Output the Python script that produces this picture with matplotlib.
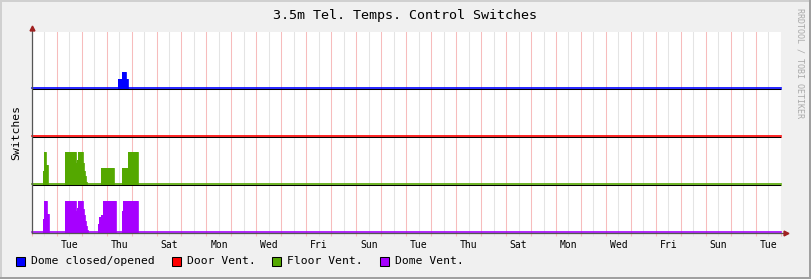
#!/usr/bin/env python3
"""
Recreate the RRDtool '3.5m Tel. Temps. Control Switches' graph
"""

import matplotlib.pyplot as plt
from matplotlib.patches import Rectangle

# time axis in days, day 0 = Monday 00:00
blue_t = [0.00, 3.46, 3.60, 3.77, 3.84]
blue_v = [0.00, 0.20, 0.35, 0.20, 0.00]

red_t = [0.00]
red_v = [0.00]

green_t = [0.00, 0.46, 0.49, 0.57, 0.64, 1.34, 1.76, 1.80, 1.87, 2.04,
           2.09, 2.14, 2.19, 2.22, 2.78, 3.30, 3.62, 3.84, 3.87, 4.27]
green_v = [0.00, 0.30, 0.68, 0.42, 0.00, 0.68, 0.45, 0.52, 0.68, 0.45,
           0.30, 0.18, 0.06, 0.00, 0.35, 0.00, 0.35, 0.55, 0.68, 0.00]

purple_t = [0.00, 0.47, 0.50, 0.60, 0.68, 1.34, 1.76, 1.80, 1.87, 2.04,
            2.08, 2.12, 2.16, 2.20, 2.24, 2.64, 2.69, 2.77, 2.84, 3.36,
            3.60, 3.64, 4.27]
purple_v = [0.00, 0.30, 0.67, 0.40, 0.00, 0.67, 0.45, 0.52, 0.67, 0.50,
            0.38, 0.25, 0.15, 0.06, 0.00, 0.19, 0.33, 0.38, 0.67, 0.00,
            0.45, 0.67, 0.00]

series_names = ['Dome closed/opened', 'Door Vent.', 'Floor Vent.', 'Dome Vent.']
series_colors = ['#0000ff', '#ff0000', '#54a800', '#a600ff']
series_offsets = [3, 2, 1, 0]

tick_days = [1.5 + 2 * i for i in range(15)]
tick_labels = ['Tue', 'Thu', 'Sat', 'Mon', 'Wed', 'Fri', 'Sun', 'Tue',
               'Thu', 'Sat', 'Mon', 'Wed', 'Fri', 'Sun', 'Tue']

N_DAYS = 30
W, H = 811, 279
MONO = 'DejaVu Sans Mono'


def px(x, y):
    return x / W, 1 - y / H


def main():
    fig = plt.figure(figsize=(W / 100, H / 100), dpi=100)
    fig.patch.set_facecolor('#f0f0f0')

    ax = fig.add_axes([31.7 / W, (H - 233) / H, 749 / W, 201 / H])
    ax.set_facecolor('white')
    ax.set_xlim(0, N_DAYS)
    ax.set_ylim(0, 201 / 48)
    for s in ax.spines.values():
        s.set_visible(False)

    # grid: red at midnight, gray at noon
    ax.set_xticks(range(N_DAYS + 1))
    ax.set_xticks([d + 0.5 for d in range(N_DAYS)], minor=True)
    ax.set_xticklabels([''] * (N_DAYS + 1))
    labels = {d: l for d, l in zip(tick_days, tick_labels)}
    ax.set_xticklabels([labels.get(d + 0.5, '') for d in range(N_DAYS)],
                       minor=True, fontfamily=MONO, fontsize=7)
    ax.grid(True, which='major', axis='x', color='#f7bcbc', lw=0.75)
    ax.grid(True, which='minor', axis='x', color='#e4e4e4', lw=0.75)
    ax.tick_params(axis='x', which='major', length=2, color='#f7bcbc')
    ax.tick_params(axis='x', which='minor', length=2, color='#e4e4e4',
                   pad=3, labelcolor='black')
    ax.set_yticks([])
    ax.set_axisbelow(True)

    data = [(blue_t, blue_v), (red_t, red_v), (green_t, green_v),
            (purple_t, purple_v)]
    for (t, v), c, off in zip(data, series_colors, series_offsets):
        t = list(t) + [N_DAYS]
        v = list(v) + [v[-1]]
        y = [off + val for val in v]
        ax.fill_between(t, off, y, step='post', color=c, lw=0, zorder=3)
        ax.step(t, y, where='post', color=c, lw=0.6, zorder=4,
                clip_on=False)
        ax.axhline(off + 0.012, color=c, lw=1.2, zorder=4, clip_on=False)
        ax.axhline(off - 0.008, color='black', lw=0.75, zorder=5)

    # axes with arrows
    tr = ax.transAxes
    ax.plot([0, 0], [0, 1 + 4 / 201], color='#555555', lw=0.9,
            transform=tr, clip_on=False, zorder=6)
    ax.plot([0, 1 + 5 / 749], [0, 0], color='#555555', lw=0.9,
            transform=tr, clip_on=False, zorder=6)
    ax.plot([0], [1 + 4 / 201], marker='^', ms=3.5, color='#a02020',
            transform=tr, clip_on=False, zorder=7)
    ax.plot([1 + 5 / 749], [0], marker='>', ms=3.5, color='#a02020',
            transform=tr, clip_on=False, zorder=7)

    fig.text(*px(405, 16), '3.5m Tel. Temps. Control Switches',
             ha='center', va='center', fontfamily=MONO, fontsize=9.6)
    fig.text(*px(16, 132), 'Switches', rotation=90, ha='center',
             va='center', fontfamily=MONO, fontsize=8.2)
    fig.text(*px(800, 63), 'RRDTOOL / TOBI OETIKER', rotation=270,
             ha='center', va='center', fontfamily=MONO, fontsize=6,
             color='#aaaaaa')

    # legend
    legend_x = [16, 172, 272, 380]
    for x, name, c in zip(legend_x, series_names, series_colors):
        bx, by = px(x, 266)
        fig.add_artist(Rectangle((bx, by), 9 / W, 9 / H, facecolor=c,
                                 edgecolor='black', lw=0.75,
                                 transform=fig.transFigure))
        fig.text(*px(x + 15, 261.5), name, ha='left', va='center',
                 fontfamily=MONO, fontsize=8.2)

    # 3D-ish frame
    for (x, y, w, h), c in [((0, 0, 811, 2), '#d0d0d0'),
                            ((0, 0, 2, 279), '#d0d0d0'),
                            ((0, 277, 811, 2), '#a0a0a0'),
                            ((809, 0, 2, 279), '#a0a0a0')]:
        fx, fy = px(x, y + h)
        fig.add_artist(Rectangle((fx, fy), w / W, h / H, facecolor=c,
                                 lw=0, transform=fig.transFigure))

    fig.savefig('out.png', dpi=100, facecolor=fig.get_facecolor())
    plt.close(fig)


if __name__ == '__main__':
    main()
